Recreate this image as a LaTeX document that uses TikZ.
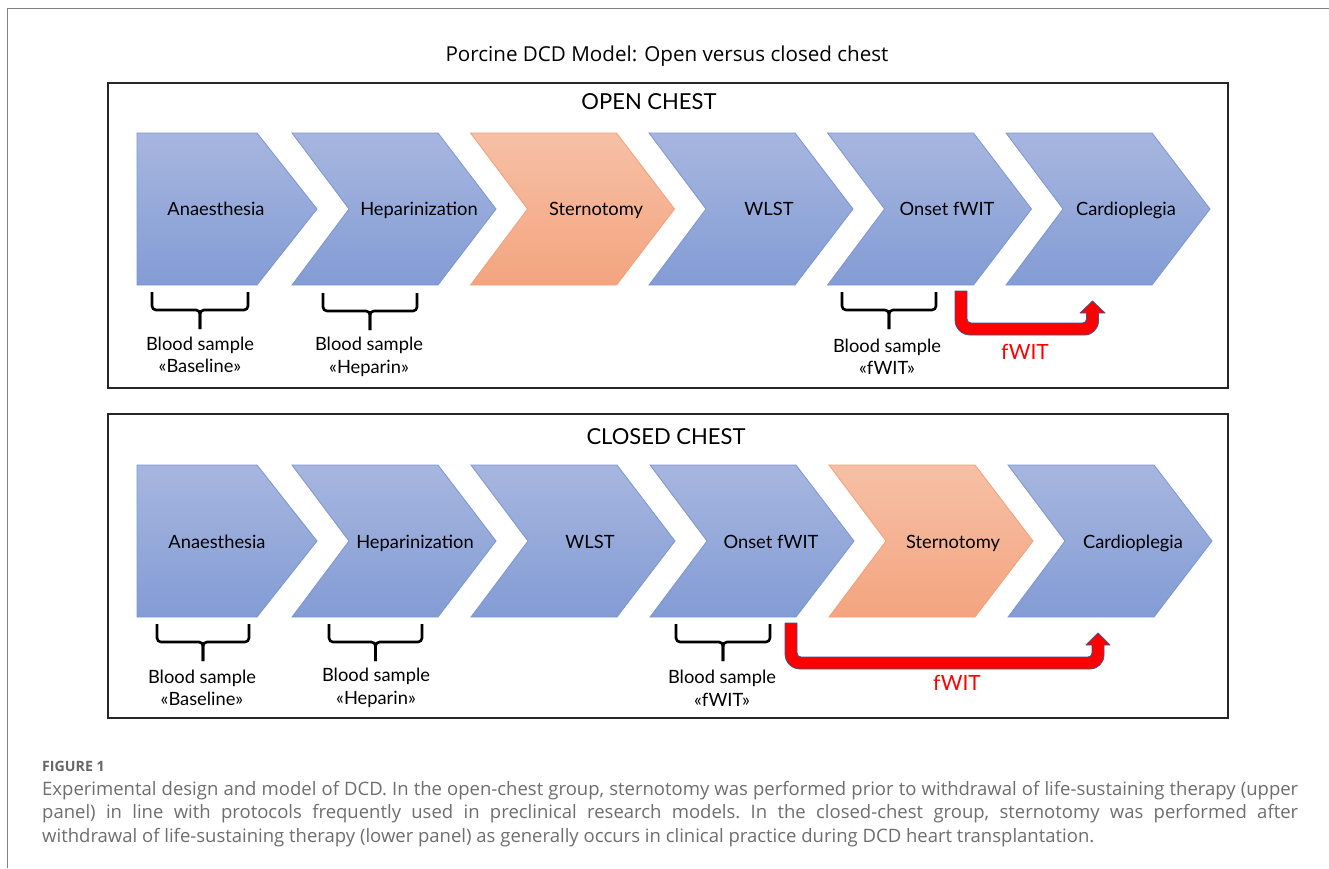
\documentclass[tikz,border=0pt]{standalone}
\usepackage{fontspec}
\setmainfont{Lato}
\newfontfamily\headfont{Open Sans}
\newfontfamily\capfont{Open Sans}

\definecolor{bluetop}{HTML}{A7B6DF}
\definecolor{bluebot}{HTML}{839CD5}
\definecolor{blueedge}{HTML}{7C96D2}
\definecolor{orangetop}{HTML}{F6C0A6}
\definecolor{orangebot}{HTML}{F4A47F}
\definecolor{orangeedge}{HTML}{F2A076}
\definecolor{arrowedge}{HTML}{3A5A92}
\definecolor{captiongray}{HTML}{6E6E6E}
\definecolor{figgray}{HTML}{666666}
\definecolor{framegray}{HTML}{7F7F7F}
\definecolor{panelgray}{HTML}{262626}

% caption text setup: font plus flexible interword spacing
\newcommand\capsetup{\capfont\fontsize{18.5}{22}\selectfont\frenchspacing
  \spaceskip=0.26em plus 0.6em minus 0.12em\relax}
% notched chevron: #1 left x, #2 top y, #3 style
\newcommand\chevnotch[3]{%
  \path[#3] (#1,#2) -- ++(146,0) -- ++(58,76) -- ++(-58,76) -- ++(-146,0) -- ++(57,-76) -- cycle;}
% first step of a row (flat left side): #1 top y, #2 style
\newcommand\chevfirst[2]{%
  \path[#2] (137,#1) -- (257,#1) -- (317,#1+76) -- (257,#1+152) -- (137,#1+152) -- cycle;}
% sampling bracket: #1 left x, #2 right x, #3 top y
\newcommand\samplebracket[3]{%
  \draw[bracket] (#1,#3) -- (#1,#3+18) -- ({(#1+#2)/2},#3+18) -- ({(#1+#2)/2},#3+37);
  \draw[bracket] (#2,#3) -- (#2,#3+18) -- ({(#1+#2)/2},#3+18) -- ({(#1+#2)/2},#3+37);}

\begin{document}
\begin{tikzpicture}[x=1pt,y=-1pt,
  bluestep/.style={top color=bluetop,bottom color=bluebot,draw=blueedge,line width=0.8pt},
  orangestep/.style={top color=orangetop,bottom color=orangebot,draw=orangeedge,line width=0.8pt},
  steplabel/.style={anchor=base,font=\fontsize{18.3}{21}\selectfont,inner sep=0pt},
  samplelabel/.style={font=\fontsize{18.3}{22.5}\selectfont,align=center,inner sep=0pt},
  bracket/.style={line width=2.6pt,rounded corners=4pt},
  panel/.style={draw=panelgray,line width=1.5pt},
  paneltitle/.style={font=\fontsize{22}{26}\selectfont,inner sep=0pt},
  fwitarrow/.style={fill=red,draw=arrowedge,line width=0.8pt,line join=round},
  fwitlabel/.style={text=red,font=\fontsize{21}{24}\selectfont,inner sep=0pt},
  capline/.style={anchor=base west,inner sep=0pt,text=captiongray,font=\capsetup}]

\useasboundingbox (0,0) rectangle (1329,868);
\fill[white] (0,0) rectangle (1329,868);

% page frame
\draw[framegray,line width=1.2pt] (7.5,868) -- (7.5,8.5) -- (1329,8.5);

\node[anchor=base,font=\headfont\fontsize{20.6}{24}\selectfont,inner sep=0pt] (title) at (667,61) {Porcine DCD Model: Open versus closed chest};

% ---------- open chest ----------
\draw[panel] (108,83) rectangle (1228,388);
\node[paneltitle] (opentitle) at (649,102) {OPEN CHEST};

\chevfirst{133}{bluestep}
\chevnotch{292}{133}{bluestep}
\chevnotch{470.5}{133}{orangestep}
\chevnotch{649}{133}{bluestep}
\chevnotch{827.5}{133}{bluestep}
\chevnotch{1006}{133}{bluestep}

\node[steplabel] (o1) at (216,215) {Anaesthesia};
\node[steplabel] (o2) at (419,215) {Heparinization};
\node[steplabel] (o3) at (596,215) {Sternotomy};
\node[steplabel] (o4) at (769,215) {WLST};
\node[steplabel] (o5) at (947,215) {Onset fWIT};
\node[steplabel] (o6) at (1126,215) {Cardioplegia};

\samplebracket{152}{248}{292}
\samplebracket{323}{417}{293}
\samplebracket{842}{936}{292}
\node[samplelabel] (os1) at (200,355) {Blood sample\\«Baseline»};
\node[samplelabel] (os2) at (369,357) {Blood sample\\«Heparin»};
\node[samplelabel] (os3) at (887,357) {Blood sample\\«fWIT»};

\path[fwitarrow] (955,291) -- (967,291) -- (967,319)
  .. controls (967,321.2) and (968.8,323) .. (971,323) -- (1082.5,323)
  .. controls (1084.7,323) and (1086.5,321.2) .. (1086.5,319) -- (1086.5,313)
  -- (1080,313) -- (1092.5,301) -- (1105,313) -- (1098.5,313) -- (1098.5,321)
  .. controls (1098.5,328.7) and (1092.2,335) .. (1084.5,335) -- (970,335)
  .. controls (961.7,335) and (955,328.3) .. (955,320) -- cycle;
\node[fwitlabel] (ofwit) at (1025,352) {fWIT};

% ---------- closed chest ----------
\draw[panel] (108,414) rectangle (1228,718);
\node[paneltitle] (closedtitle) at (666,437) {CLOSED CHEST};

\chevfirst{465}{bluestep}
\chevnotch{292}{465}{bluestep}
\chevnotch{471}{465}{bluestep}
\chevnotch{650}{465}{bluestep}
\chevnotch{829}{465}{orangestep}
\chevnotch{1008}{465}{bluestep}

\node[steplabel] (c1) at (217,548) {Anaesthesia};
\node[steplabel] (c2) at (415,548) {Heparinization};
\node[steplabel] (c3) at (590,548) {WLST};
\node[steplabel] (c4) at (771,548) {Onset fWIT};
\node[steplabel] (c5) at (953,548) {Sternotomy};
\node[steplabel] (c6) at (1133,548) {Cardioplegia};

\samplebracket{157}{249}{624}
\samplebracket{329}{422}{624}
\samplebracket{676}{770}{624}
\node[samplelabel] (cs1) at (202,688) {Blood sample\\«Baseline»};
\node[samplelabel] (cs2) at (376,688) {Blood sample\\«Heparin»};
\node[samplelabel] (cs3) at (722,688) {Blood sample\\«fWIT»};

\path[fwitarrow] (785,623) -- (797,623) -- (797,653)
  .. controls (797,655.2) and (798.8,657) .. (801,657) -- (1088,657)
  .. controls (1090.2,657) and (1092,655.2) .. (1092,653) -- (1092,645)
  -- (1086,645) -- (1098,633) -- (1110,645) -- (1104,645) -- (1104,655)
  .. controls (1104,662.7) and (1097.7,669) .. (1090,669) -- (800,669)
  .. controls (791.7,669) and (785,662.3) .. (785,654) -- cycle;
\node[fwitlabel] (cfwit) at (957,683) {fWIT};

% ---------- caption ----------
\node[anchor=base west,inner sep=0pt,text=figgray,font=\capfont\bfseries\fontsize{14.2}{16}\selectfont] (figno) at (42,771) {FIGURE 1};
\node[capline] (cap1) at (42,795) {\makebox[1256pt][s]{Experimental design and model of DCD. In the open-chest group, sternotomy was performed prior to withdrawal of life-sustaining therapy (upper}};
\node[capline] (cap2) at (42,818.5) {\makebox[1256pt][s]{panel) in line with protocols frequently used in preclinical research models. In the closed-chest group, sternotomy was performed after}};
\node[capline] (cap3) at (42,842) {withdrawal of life-sustaining therapy (lower panel) as generally occurs in clinical practice during DCD heart transplantation.};
\end{tikzpicture}
\end{document}
